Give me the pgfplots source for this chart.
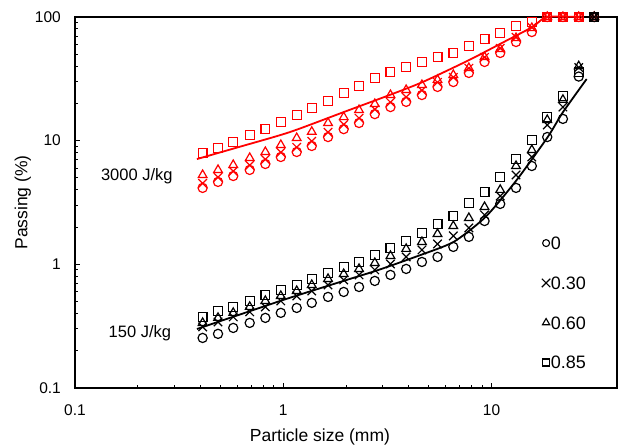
\documentclass[border=0pt]{standalone}
\usepackage{pgfplots}
\pgfplotsset{compat=1.18}
\usepackage{fontspec}
\setmainfont{Liberation Sans}

\pgfplotsset{legimg/.style={legend image code/.code={\draw[##1] plot[mark size=#1] coordinates {(4.5bp,0bp)};}}}

\pgfplotstableread{
x     c      k      t      s
0.41  4.15   4.52   5.28   7.95
0.486 4.64   5.06   5.80   8.73
0.575 5.18   5.65   6.36   9.76
0.69  5.80   6.32   7.25   11.1
0.82  6.48   7.06   8.10   12.4
0.973 7.38   8.04   9.23   14.2
1.16  8.10   8.83   10.5   16.1
1.37  9.06   9.88   11.8   18.4
1.64  10.7   11.7   13.9   20.9
1.95  12.4   13.5   15.5   24.3
2.31  13.9   15.2   17.7   27.7
2.75  16.4   17.9   19.8   32.1
3.27  18.7   20.4   23.4   35.9
3.89  20.6   22.5   25.7   39.4
4.63  23.4   25.5   28.2   43.3
5.5   27.2   29.6   31.0   47.5
6.55  29.8   32.5   34.0   51.2
7.78  35.3   38.5   38.7   58.3
9.25  43.3   47.2   47.5   66.4
11.0  51.2   55.8   55.1   74.3
13.1  62.8   68.5   67.6   84.6
15.6  75.6   82.4   81.5   91.1
18.5  100    100    100    100
22.0  100    100    100    100
26.2  100    100    100    100
31.1  100    100    100    100
}\redtab

\pgfplotstableread{
x     c      k      t      s
0.41  0.254  0.312  0.336  0.376
0.486 0.274  0.342  0.369  0.420
0.575 0.306  0.376  0.405  0.453
0.69  0.336  0.413  0.453  0.506
0.82  0.369  0.453  0.506  0.566
0.973 0.405  0.506  0.555  0.621
1.16  0.444  0.555  0.609  0.681
1.37  0.488  0.609  0.681  0.762
1.64  0.545  0.681  0.762  0.851
1.95  0.598  0.748  0.835  0.953
2.31  0.656  0.821  0.918  1.045
2.75  0.734  0.901  1.026  1.191
3.27  0.821  1.007  1.169  1.358
3.89  0.918  1.148  1.333  1.545
4.63  1.045  1.308  1.517  1.795
5.5   1.148  1.461  1.762  2.12
6.55  1.383  1.698  2.04   2.46
7.78  1.667  1.97   2.37   3.13
9.25  2.24   2.51   2.91   3.85
11.0  3.08   3.57   4.0    5.09
13.1  4.15   5.28   6.24   7.11
15.6  6.24   7.38   8.4    10.1
18.5  10.7   13.4   14.7   15.6
22.0  15.0   18.7   21.4   23.0
26.2  33.0   39.0   40.0   36.0
31.1  100    100    100    100
}\blacktab

\begin{document}
\begin{tikzpicture}
\begin{axis}[
  name=ax,
  scale only axis,
  width=542bp, height=371bp,
  xmode=log, ymode=log,
  xmin=0.1, xmax=40, ymin=0.1, ymax=100,
  xtick={0.1,1,10}, ytick={0.1,1,10,100},
  log ticks with fixed point,
  /pgf/number format/assume math mode=true,
  tick align=inside,
  xtick pos=bottom, ytick pos=left,
  major tick length=5bp, minor tick length=3.5bp,
  every tick/.style={black, line width=1bp},
  axis line style={black, line width=1.3bp},
  tick label style={font=\fontsize{15.5bp}{18bp}\selectfont},
  xticklabel style={anchor=base, inner sep=0pt, yshift=-27bp},
  yticklabel style={anchor=east, inner sep=0pt, xshift=-14bp},
  xlabel={Particle size (mm)},
  ylabel={Passing (\%)},
  label style={font=\fontsize{17.5bp}{20bp}\selectfont},
  xlabel style={at={(axis description cs:0.452,-0.143)}, anchor=base},
  ylabel style={at={(axis description cs:-0.096,0.5)}, anchor=center},
  clip=false,
  legend cell align=left,
  legend style={at={(0.861,0.410)}, anchor=north west, draw=none, fill=none,
    inner sep=0pt, row sep=25.8bp,
    font=\fontsize{18bp}{19bp}\selectfont,
    nodes={inner sep=0.6bp, text height=12.8bp, text depth=0bp}},
]
% red series (3000 J/kg)
\addplot[forget plot, only marks, mark=o, mark size=4.6bp, red, line width=1.2bp] table[x=x, y=c] {\redtab};
\addplot[forget plot, only marks, mark=x, mark size=6bp, red, line width=1.2bp] table[x=x, y=k] {\redtab};
\addplot[forget plot, only marks, mark=triangle, mark size=5bp, red, line width=1.2bp] table[x=x, y=t] {\redtab};
\addplot[forget plot, only marks, mark=square, mark size=4.4bp, red, line width=1.2bp] table[x=x, y=s] {\redtab};
\addplot[forget plot, red, line width=1.8bp, smooth, tension=0.4] coordinates {
  (0.385,7.1) (0.6,8.8) (1.07,11.7) (2.0,17.3) (3.24,23.4) (4.67,29.8)
  (7.83,45) (11.2,61.6) (15.7,83) (18.4,100) (26.2,100)};
% black series (150 J/kg)
\addplot[forget plot, only marks, mark=o, mark size=4.6bp, black, line width=1.2bp] table[x=x, y=c] {\blacktab};
\addplot[forget plot, only marks, mark=x, mark size=6bp, black, line width=1.2bp] table[x=x, y=k] {\blacktab};
\addplot[forget plot, only marks, mark=triangle, mark size=5bp, black, line width=1.2bp] table[x=x, y=t] {\blacktab};
\addplot[forget plot, only marks, mark=square, mark size=4.4bp, black, line width=1.2bp] table[x=x, y=s] {\blacktab};
\addplot[forget plot, black, line width=1.8bp, smooth, tension=0.4] coordinates {
  (0.385,0.30) (0.6,0.386) (1.07,0.535) (2.0,0.745) (2.86,0.90) (4.5,1.18)
  (6.58,1.52) (9.36,2.42) (13.2,4.81) (18.6,10.7) (21.9,16.8) (28.6,31.5)};
% legend
\addlegendimage{black, mark=o, line width=1.1bp, legimg=3.5bp}
\addlegendentry{0}
\addlegendimage{black, mark=x, line width=1.1bp, legimg=6bp}
\addlegendentry{0.30}
\addlegendimage{black, mark=triangle, line width=1.1bp, legimg=4.2bp}
\addlegendentry{0.60}
\addlegendimage{black, mark=square, line width=1.1bp, legimg=3.5bp}
\addlegendentry{0.85}
% annotations
\node[font=\fontsize{16.5bp}{19bp}\selectfont] at (axis cs:0.198,5.19) {3000 J/kg};
\node[font=\fontsize{16.5bp}{19bp}\selectfont] at (axis cs:0.205,0.279) {150 J/kg};
\end{axis}
\pgfresetboundingbox
\path[use as bounding box] ([xshift=-75bp,yshift=-59bp]ax.south west) rectangle ([xshift=547bp,yshift=388bp]ax.south west);
\end{tikzpicture}
\end{document}
